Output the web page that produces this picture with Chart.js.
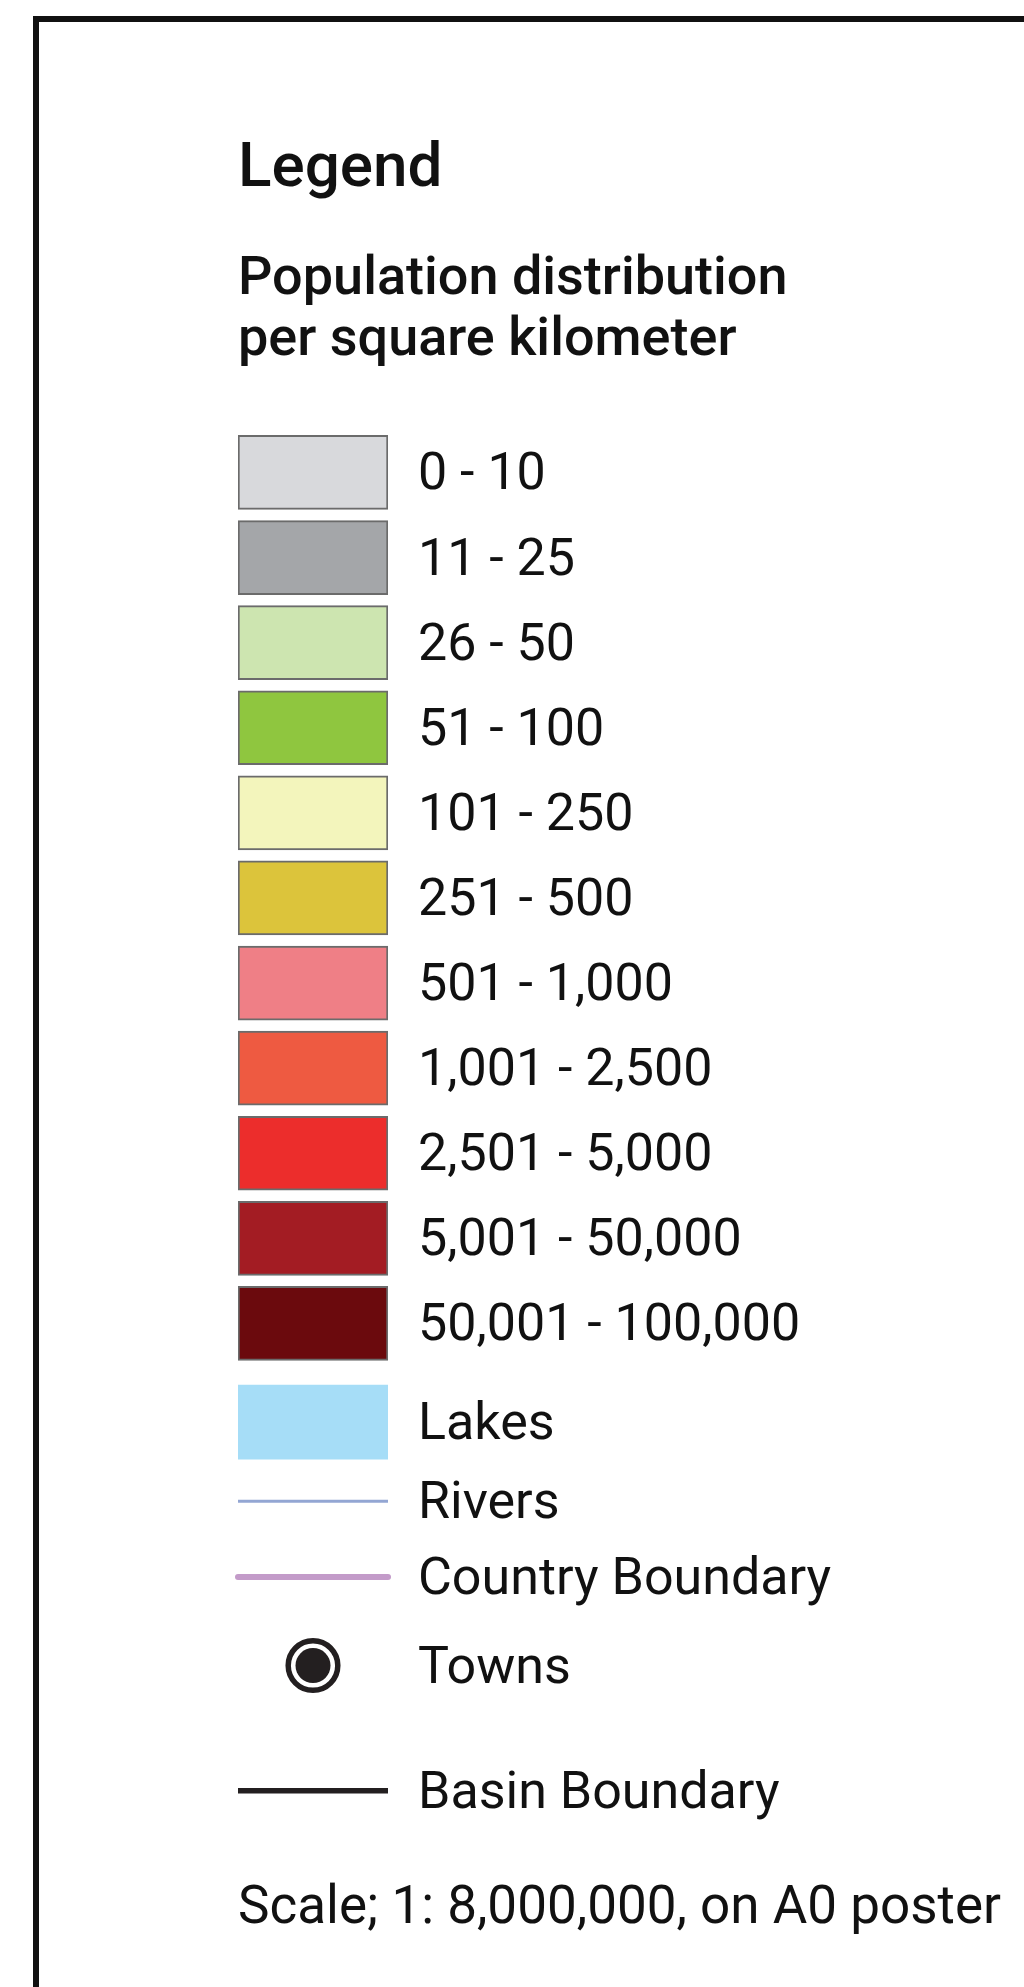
<!DOCTYPE html>
<html>
<head>
<meta charset="utf-8">
<title>Population distribution legend</title>
<script src="https://cdn.jsdelivr.net/npm/chart.js@4.4.1/dist/chart.umd.min.js"></script>
<style>
  html, body { margin: 0; padding: 0; background: #fff; overflow: hidden; }
  #frame {
    position: absolute; left: 33px; top: 16px; width: 1200px; height: 2200px;
    border-left: 6px solid #111; border-top: 6px solid #111; box-sizing: border-box;
  }
  #legendChart { position: absolute; left: 0; top: 0; }
  #scaleNote {
    position: absolute; left: 238px; top: 1873px;
    font: 400 53px/64px Roboto, "Open Sans", sans-serif; color: #111; white-space: nowrap;
  }
</style>
</head>
<body>
<div id="frame"></div>
<canvas id="legendChart" width="1024" height="1987"></canvas>
<div id="scaleNote"></div>
<script>
// density classes, people per square kilometer
const classLabels = [
    '0 - 10', '11 - 25', '26 - 50', '51 - 100', '101 - 250', '251 - 500',
    '501 - 1,000', '1,001 - 2,500', '2,501 - 5,000', '5,001 - 50,000', '50,001 - 100,000'
];
const classColors = [
    '#d8d9dc', '#a4a6a9', '#cde5b0', '#8fc63f', '#f3f5bc', '#dcc43b',
    '#ef7f86', '#ee5a41', '#ec2d2c', '#a31c23', '#6b0a0d'
];
const featureLabels = ['Lakes', 'Rivers', 'Country Boundary', 'Towns', 'Basin Boundary'];
const featureColors = ['#a6ddf7', '#93a6d3', '#c39bc9', '#231f20', '#231f20'];
const scaleNote = 'Scale; 1: 8,000,000, on A0 poster';

// row slots in swatch steps; the map symbols below the classes are not on the grid
const featureRows = [11.16, 12.09, 12.98, 14.02, 15.49];

const rowValues = classLabels.map((_, i) => i).concat(featureRows);
const rowLabels = classLabels.concat(featureLabels);
const INK = '#111';

document.getElementById('scaleNote').textContent = scaleNote;

Chart.defaults.font.family = 'Roboto, "Open Sans", sans-serif';
Chart.defaults.color = INK;

const hline = (row) => [{ x: 0, y: row }, { x: 1, y: row }];

new Chart(document.getElementById('legendChart'), {
    type: 'bar',
    data: {
        datasets: [
            {
                // town symbol: black dot
                type: 'scatter',
                order: 0,
                data: [{ x: 0.5, y: featureRows[3] }],
                pointRadius: 17.5,
                pointBackgroundColor: featureColors[3],
                pointBorderWidth: 0
            },
            {
                // town symbol: outer ring
                type: 'scatter',
                order: 1,
                data: [{ x: 0.5, y: featureRows[3] }],
                pointRadius: 24.8,
                pointBackgroundColor: '#fff',
                pointBorderColor: featureColors[3],
                pointBorderWidth: 5.5
            },
            {
                type: 'line',
                order: 2,
                data: hline(featureRows[1]),
                borderColor: featureColors[1],
                borderWidth: 3,
                pointRadius: 0,
                clip: false
            },
            {
                type: 'line',
                order: 2,
                data: hline(featureRows[2]),
                borderColor: featureColors[2],
                borderWidth: 6,
                borderCapStyle: 'round',
                pointRadius: 0,
                clip: false
            },
            {
                type: 'line',
                order: 2,
                data: hline(featureRows[4]),
                borderColor: featureColors[4],
                borderWidth: 5.5,
                pointRadius: 0,
                clip: false
            },
            {
                type: 'bar',
                order: 3,
                data: classLabels.map((_, i) => ({ x: [0, 1], y: i }))
                    .concat({ x: [0, 1], y: featureRows[0] }),
                backgroundColor: classColors.concat(featureColors[0]),
                borderColor: '#6b6b6b',
                borderWidth: classLabels.map(() => 2).concat(0),
                borderSkipped: false,
                barThickness: 74
            }
        ]
    },
    options: {
        indexAxis: 'y',
        responsive: false,
        animation: false,
        events: [],
        layout: { padding: { top: 0, left: 238, right: 0, bottom: 143.6 } },
        plugins: {
            legend: { display: false },
            tooltip: { enabled: false },
            title: {
                display: true,
                text: 'Legend',
                align: 'start',
                color: INK,
                font: { size: 62, weight: '500', lineHeight: 1.2 },
                padding: { top: 132.8, bottom: 0 }
            },
            subtitle: {
                display: true,
                text: ['Population distribution', 'per square kilometer'],
                align: 'start',
                color: INK,
                font: { size: 54, weight: '500', lineHeight: 61 / 54 },
                padding: { top: 42.3, bottom: 58.4 }
            }
        },
        scales: {
            x: {
                type: 'linear',
                min: 0,
                max: 1,
                display: false
            },
            y: {
                type: 'linear',
                position: 'right',
                reverse: true,
                offset: false,
                min: -0.5,
                max: 16.11,
                grid: { display: false, drawTicks: false },
                border: { display: false },
                afterBuildTicks: (scale) => {
                    scale.ticks = rowValues.map(v => ({ value: v }));
                },
                afterFit: (scale) => { scale.width = 636; },
                ticks: {
                    autoSkip: false,
                    padding: 30,
                    labelOffset: 4,
                    color: INK,
                    font: { size: 52 },
                    callback: (value, index) => rowLabels[index]
                }
            }
        }
    }
});
</script>
</body>
</html>
